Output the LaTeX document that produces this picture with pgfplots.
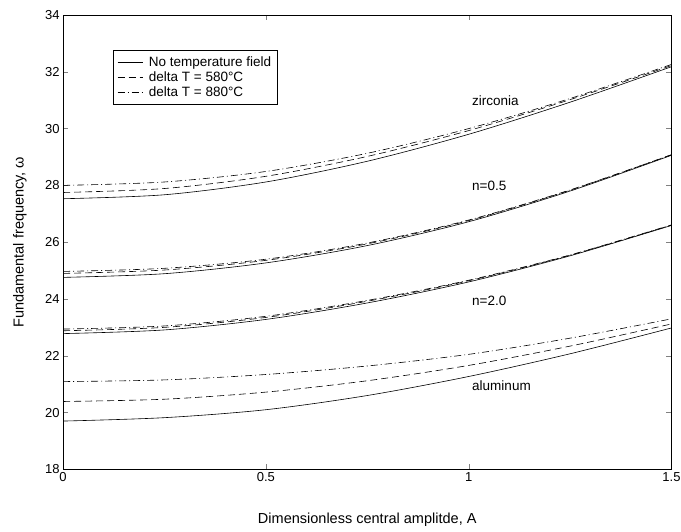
\documentclass[border=0pt]{standalone}
\usepackage{fontspec}
\setmainfont{Liberation Sans}
\usepackage{pgfplots}
\pgfplotsset{compat=1.18}
\begin{document}
\begin{tikzpicture}
\begin{axis}[
  scale only axis,
  width=608pt, height=454pt,
  xmin=0, xmax=1.5, ymin=18, ymax=34,
  xtick={0,0.5,1,1.5}, ytick={18,20,...,34},
  xticklabels={0,0.5,1,1.5},
  tick align=inside, tick pos=both,
  major tick length=5pt,
  /pgf/number format/assume math mode=true,
  tick label style={font=\fontsize{13}{15}\selectfont},
  xlabel={Dimensionless central amplitde, A},
  ylabel={Fundamental frequency, ω},
  xlabel style={at={(axis description cs:0.5,-0.112)}, anchor=center, font=\fontsize{14.5}{16}\selectfont},
  ylabel style={at={(axis description cs:-0.071,0.5)}, anchor=center, font=\fontsize{14.5}{16}\selectfont},
  axis line style={line width=0.8pt},
  legend style={at={(axis cs:0.123,32.76)}, anchor=north west, draw=black, line width=0.6pt, font=\fontsize{13.5}{16}\selectfont, inner xsep=4pt, inner ysep=4pt, legend cell align=left},
  legend image code/.code={\draw[#1] (0pt,0pt) -- (25pt,0pt); \path (29pt,0pt);},
  every axis plot/.append style={black, line width=0.6pt, smooth},
]
% zirconia
\addplot[solid] coordinates {(0,27.53) (0.25,27.67) (0.5,28.12) (0.75,28.85) (1.0,29.80) (1.25,30.93) (1.5,32.18)};
\addplot[dash pattern=on 7pt off 4pt] coordinates {(0,27.75) (0.25,27.89) (0.5,28.32) (0.75,29.02) (1.0,29.93) (1.25,31.02) (1.5,32.22)};
\addplot[dash pattern=on 7pt off 3pt on 1pt off 3pt] coordinates {(0,28.0) (0.25,28.12) (0.5,28.49) (0.75,29.13) (1.0,30.0) (1.25,31.06) (1.5,32.26)};
\legend{No temperature field, delta T = 580°C, delta T = 880°C}
% n=0.5
\addplot[solid] coordinates {(0,24.76) (0.25,24.89) (0.5,25.27) (0.75,25.88) (1.0,26.72) (1.25,27.80) (1.5,29.06)};
\addplot[dash pattern=on 7pt off 4pt] coordinates {(0,24.90) (0.25,25.02) (0.5,25.36) (0.75,25.94) (1.0,26.76) (1.25,27.83) (1.5,29.08)};
\addplot[dash pattern=on 7pt off 3pt on 1pt off 3pt] coordinates {(0,24.97) (0.25,25.08) (0.5,25.40) (0.75,25.97) (1.0,26.78) (1.25,27.84) (1.5,29.08)};
% n=2.0
\addplot[solid] coordinates {(0,22.78) (0.25,22.91) (0.5,23.28) (0.75,23.86) (1.0,24.60) (1.25,25.52) (1.5,26.59)};
\addplot[dash pattern=on 7pt off 4pt] coordinates {(0,22.88) (0.25,23.00) (0.5,23.35) (0.75,23.92) (1.0,24.64) (1.25,25.54) (1.5,26.60)};
\addplot[dash pattern=on 7pt off 3pt on 1pt off 3pt] coordinates {(0,22.94) (0.25,23.05) (0.5,23.39) (0.75,23.95) (1.0,24.66) (1.25,25.55) (1.5,26.61)};
% aluminum
\addplot[solid] coordinates {(0,19.70) (0.25,19.82) (0.5,20.10) (0.75,20.60) (1.0,21.27) (1.25,22.07) (1.5,22.98)};
\addplot[dash pattern=on 7pt off 4pt] coordinates {(0,20.39) (0.25,20.47) (0.5,20.72) (0.75,21.12) (1.0,21.66) (1.25,22.34) (1.5,23.12)};
\addplot[dash pattern=on 7pt off 3pt on 1pt off 3pt] coordinates {(0,21.09) (0.25,21.15) (0.5,21.34) (0.75,21.64) (1.0,22.05) (1.25,22.62) (1.5,23.30)};
\node[anchor=west, font=\fontsize{13.5}{15}\selectfont] at (axis cs:1.0,31.0) {zirconia};
\node[anchor=west, font=\fontsize{13.5}{15}\selectfont] at (axis cs:1.0,28.0) {n=0.5};
\node[anchor=west, font=\fontsize{13.5}{15}\selectfont] at (axis cs:1.0,23.94) {n=2.0};
\node[anchor=west, font=\fontsize{13.5}{15}\selectfont] at (axis cs:1.0,20.94) {aluminum};
\end{axis}
\pgfresetboundingbox
\path[use as bounding box] ([shift={(-63pt,-62pt)}]current axis.south west) rectangle ([shift={(9.5pt,15pt)}]current axis.north east);
\end{tikzpicture}
\end{document}
